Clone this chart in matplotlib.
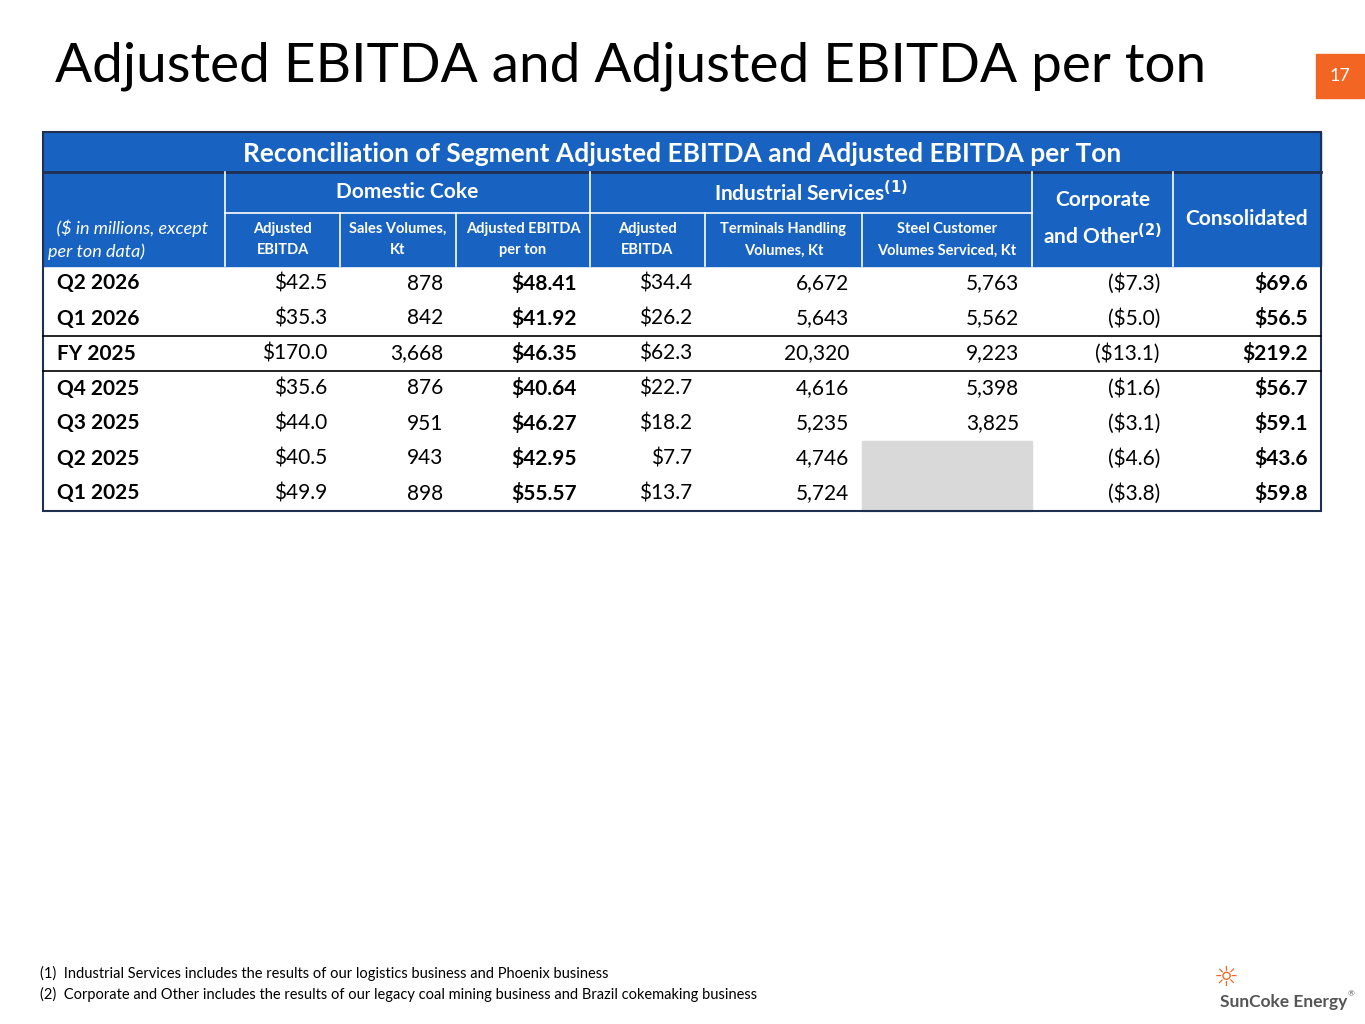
import matplotlib.pyplot as plt
from matplotlib.patches import Rectangle

plt.rcParams['font.family'] = ['Lato', 'DejaVu Sans']

# table data
periods = ['Q2 2026', 'Q1 2026', 'FY 2025', 'Q4 2025', 'Q3 2025', 'Q2 2025', 'Q1 2025']
dc_ebitda = ['$42.5', '$35.3', '$170.0', '$35.6', '$44.0', '$40.5', '$49.9']
dc_volume = ['878', '842', '3,668', '876', '951', '943', '898']
dc_per_ton = ['$48.41', '$41.92', '$46.35', '$40.64', '$46.27', '$42.95', '$55.57']
is_ebitda = ['$34.4', '$26.2', '$62.3', '$22.7', '$18.2', '$7.7', '$13.7']
is_terminals = ['6,672', '5,643', '20,320', '4,616', '5,235', '4,746', '5,724']
is_steel = ['5,763', '5,562', '9,223', '5,398', '3,825', '', '']
corporate = ['($7.3)', '($5.0)', '($13.1)', '($1.6)', '($3.1)', '($4.6)', '($3.8)']
consolidated = ['$69.6', '$56.5', '$219.2', '$56.7', '$59.1', '$43.6', '$59.8']

sub_headers = ['Adjusted\nEBITDA', 'Sales Volumes,\nKt', 'Adjusted EBITDA\nper ton',
               'Adjusted\nEBITDA', 'Terminals Handling\nVolumes, Kt', 'Steel Customer\nVolumes Serviced, Kt']

blue = '#1862C2'
fig = plt.figure(figsize=(13.65, 10.24), dpi=100)
ax = fig.add_axes([0, 0, 1, 1])
ax.set_xlim(0, 1365)
ax.set_ylim(1024, 0)
ax.axis('off')

ax.text(55, 66, 'Adjusted EBITDA and Adjusted EBITDA per ton', fontsize=39.5, va='center', color='black')
ax.add_patch(Rectangle((1316, 54), 48, 44, color='#F26522'))
ax.text(1340, 76, '17', color='white', fontsize=13, ha='center', va='center')

xs = [43, 225, 340, 456, 590, 705, 862, 1032, 1173, 1321]
top, y1, y2, y3 = 132, 172, 213, 266
rh = 35

ax.add_patch(Rectangle((xs[0], top), xs[-1] - xs[0], y3 - top, color=blue))
ax.text((xs[0] + xs[-1]) / 2, (top + y1) / 2 + 2, 'Reconciliation of Segment Adjusted EBITDA and Adjusted EBITDA per Ton',
        color='white', fontsize=19, weight='bold', ha='center', va='center')
ax.plot([xs[0], xs[-1]], [y1, y1], color='#1F2F4F', lw=2)
wl = dict(color='white', lw=1.2)
for x in xs[1:-1]:
    if x in (225, 590, 1032, 1173):
        ax.plot([x, x], [y1, y3], **wl)
    else:
        ax.plot([x, x], [y2, y3], **wl)
ax.plot([225, 1032], [y2, y2], **wl)
ax.text((225 + 590) / 2, (y1 + y2) / 2, 'Domestic Coke', color='white', fontsize=15, weight='bold', ha='center', va='center')
ax.text((590 + 1032) / 2, (y1 + y2) / 2, r'Industrial Services$^{\mathbf{(1)}}$', color='white', fontsize=15, weight='bold', ha='center', va='center')
ax.text((1032 + 1173) / 2, (y1 + y3) / 2, 'Corporate\nand Other$^{\\mathbf{(2)}}$', color='white', fontsize=15, weight='bold',
        ha='center', va='center', linespacing=1.6)
ax.text((1173 + 1321) / 2, (y1 + y3) / 2, 'Consolidated', color='white', fontsize=15, weight='bold', ha='center', va='center')
ax.text(48, (y2 + y3) / 2, '  ($ in millions, except\nper ton data)', color='white', fontsize=13, style='italic',
        ha='left', va='center', linespacing=1.5)
for i, h in enumerate(sub_headers):
    ax.text((xs[i + 1] + xs[i + 2]) / 2, (y2 + y3) / 2, h, color='white', fontsize=10.5, weight='bold',
            ha='center', va='center', linespacing=1.7)

cols = [dc_ebitda, dc_volume, dc_per_ton, is_ebitda, is_terminals, is_steel, corporate, consolidated]
bold_cols = {2, 7}
for r, p in enumerate(periods):
    yc = y3 + rh * r + rh / 2
    ax.text(57, yc, p, fontsize=15, weight='bold', va='center')
    for c, col in enumerate(cols):
        if col[r] == '':
            ax.add_patch(Rectangle((xs[c + 1], y3 + rh * r), xs[c + 2] - xs[c + 1], rh, color='#D9D9D9'))
            continue
        ax.text(xs[c + 2] - 13, yc, col[r], fontsize=15, ha='right', va='center',
                weight='bold' if c in bold_cols else 'normal')

bottom = y3 + rh * len(periods)
for y in (y3 + 2 * rh, y3 + 3 * rh):
    ax.plot([xs[0], xs[-1]], [y, y], color='black', lw=1.2)
ax.add_patch(Rectangle((xs[0], top), xs[-1] - xs[0], bottom - top, fill=False, ec='#1F2F4F', lw=1.5))

ax.text(40, 973, '(1)  Industrial Services includes the results of our logistics business and Phoenix business', fontsize=10.5, va='center')
ax.text(40, 994, '(2)  Corporate and Other includes the results of our legacy coal mining business and Brazil cokemaking business', fontsize=10.5, va='center')

ax.text(1226, 978, '☼', color='#F26522', fontsize=20, ha='center', va='center', family=['DejaVu Sans'])
ax.text(1220, 1002, 'SunCoke Energy', color='#555555', fontsize=12.5, weight='bold', va='center')
ax.text(1348, 994, '®', color='#555555', fontsize=6, va='center')

fig.savefig('out.png', dpi=100)
